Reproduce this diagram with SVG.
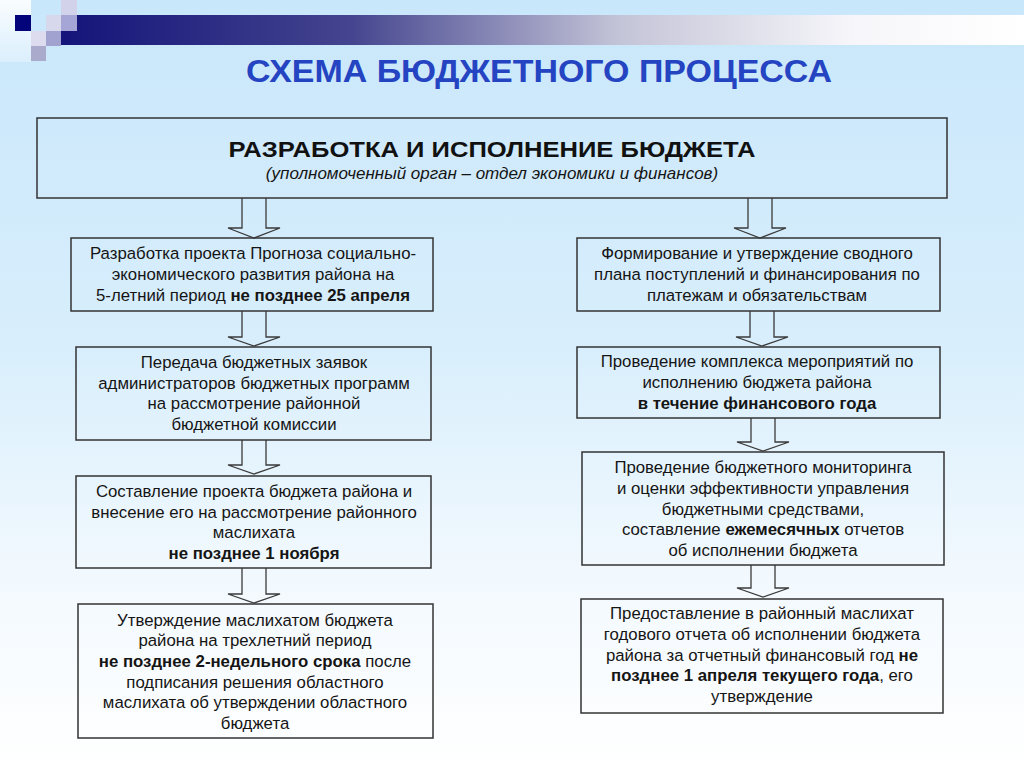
<svg xmlns="http://www.w3.org/2000/svg" width="1024" height="768" viewBox="0 0 1024 768">
<defs>
<linearGradient id="bg" x1="0" y1="0" x2="0" y2="1">
<stop offset="0" stop-color="#c9e7fb"/>
<stop offset="0.45" stop-color="#d8eefc"/>
<stop offset="0.75" stop-color="#f2f9fe"/>
<stop offset="1" stop-color="#ffffff"/>
</linearGradient>
<linearGradient id="bar" x1="0" y1="0" x2="1" y2="0">
<stop offset="0" stop-color="#14147a"/>
<stop offset="0.3" stop-color="#44448f"/>
<stop offset="0.58" stop-color="#c4c4d8"/>
<stop offset="0.82" stop-color="#f6f6fa"/>
<stop offset="1" stop-color="#ffffff"/>
</linearGradient>
<linearGradient id="strip" x1="0" y1="0" x2="0" y2="1">
<stop offset="0" stop-color="#ffffff" stop-opacity="0.9"/>
<stop offset="1" stop-color="#ffffff" stop-opacity="0.3"/>
</linearGradient>
<style>
.box{fill:none;stroke:#333333;stroke-width:1.5}
.arr{fill:none;stroke:#3a3a3a;stroke-width:1.3;stroke-linejoin:miter}
.t{font-family:"Liberation Sans",Arial,sans-serif;font-size:16.8px;fill:#151515;text-anchor:middle}
.b{font-weight:bold}
.h{font-family:"Liberation Sans",Arial,sans-serif;font-size:31px;font-weight:bold;fill:#2444c2;text-anchor:middle}
.mh{font-family:"Liberation Sans",Arial,sans-serif;font-size:22px;font-weight:bold;fill:#111111;text-anchor:middle}
.mi{font-family:"Liberation Sans",Arial,sans-serif;font-size:17px;font-style:italic;fill:#151515;text-anchor:middle}
</style>
</defs>
<rect x="0" y="0" width="1024" height="768" fill="url(#bg)"/>
<g id="decor">
<rect x="0" y="0" width="31" height="62" fill="url(#strip)"/>
<rect x="61" y="15" width="963" height="30" fill="url(#bar)"/>
<rect x="15" y="15" width="16" height="16" fill="#03037a"/>
<rect x="46" y="15" width="15" height="16" fill="#d8d8ec"/>
<rect x="61" y="15" width="16" height="16" fill="#a6a6d6"/>
<rect x="61" y="0" width="16" height="15" fill="#d2d2ea"/>
<rect x="31" y="31" width="15" height="15" fill="#dcdcee"/>
<rect x="46" y="31" width="15" height="15" fill="#a2a2d0"/>
<rect x="31" y="46" width="15" height="15" fill="#aaaacc"/>
</g>
<text class="h" x="539" y="82" textLength="586" lengthAdjust="spacingAndGlyphs">СХЕМА БЮДЖЕТНОГО ПРОЦЕССА</text>
<g id="main">
<rect class="box" x="37" y="118" width="910" height="80"/>
<text class="mh" x="492" y="157" textLength="527" lengthAdjust="spacingAndGlyphs">РАЗРАБОТКА И ИСПОЛНЕНИЕ БЮДЖЕТА</text>
<text class="mi" x="492" y="179">(уполномоченный орган – отдел экономики и финансов)</text>
</g>
<g id="connectors">
<polyline class="arr" points="242,198 242,228 228,228 254,238 280,228 266,228 266,198"/>
<polyline class="arr" points="748,198 748,228 734,228 760,238 786,228 772,228 772,198"/>
<polyline class="arr" points="242,311 242,337 228,337 254,346 280,337 266,337 266,311"/>
<polyline class="arr" points="242,440 242,465 228,465 254,474 280,465 266,465 266,440"/>
<polyline class="arr" points="242,568 242,594 228,594 254,603 280,594 266,594 266,568"/>
<polyline class="arr" points="750,311 750,337 736,337 762,346 788,337 774,337 774,311"/>
<polyline class="arr" points="751,418 751,442 737,442 763,451 789,442 775,442 775,418"/>
<polyline class="arr" points="751,565 751,588 737,588 763,597 789,588 775,588 775,565"/>
</g>
<g id="L1">
<rect class="box" x="71" y="238" width="362" height="73"/>
<text class="t" x="253" y="259">Разработка проекта Прогноза социально-</text>
<text class="t" x="253" y="280">экономического развития района на</text>
<text class="t" x="253" y="301">5-летний период <tspan class="b">не позднее 25 апреля</tspan></text>
</g>
<g id="L2">
<rect class="box" x="76" y="347" width="355" height="93"/>
<text class="t" x="254" y="368">Передача бюджетных заявок</text>
<text class="t" x="254" y="389">администраторов бюджетных программ</text>
<text class="t" x="254" y="409">на рассмотрение районной</text>
<text class="t" x="254" y="430">бюджетной комиссии</text>
</g>
<g id="L3">
<rect class="box" x="76" y="476" width="355" height="92"/>
<text class="t" x="254" y="497">Составление проекта бюджета района и</text>
<text class="t" x="254" y="518">внесение его на рассмотрение районного</text>
<text class="t" x="254" y="538">маслихата</text>
<text class="t b" x="254" y="559">не позднее 1 ноября</text>
</g>
<g id="L4">
<rect class="box" x="78" y="604" width="355" height="134"/>
<text class="t" x="255" y="626">Утверждение маслихатом бюджета</text>
<text class="t" x="255" y="646">района на трехлетний период</text>
<text class="t" x="255" y="667"><tspan class="b">не позднее 2-недельного срока</tspan> после</text>
<text class="t" x="255" y="688">подписания решения областного</text>
<text class="t" x="255" y="708">маслихата об утверждении областного</text>
<text class="t" x="255" y="729">бюджета</text>
</g>
<g id="R1">
<rect class="box" x="577" y="238" width="363" height="73"/>
<text class="t" x="757" y="259">Формирование и утверждение сводного</text>
<text class="t" x="757" y="280">плана поступлений и финансирования по</text>
<text class="t" x="757" y="301">платежам и обязательствам</text>
</g>
<g id="R2">
<rect class="box" x="577" y="347" width="363" height="71"/>
<text class="t" x="757" y="367">Проведение комплекса мероприятий по</text>
<text class="t" x="757" y="388">исполнению бюджета района</text>
<text class="t b" x="757" y="409">в течение финансового года</text>
</g>
<g id="R3">
<rect class="box" x="582" y="452" width="362" height="113"/>
<text class="t" x="763" y="473">Проведение бюджетного мониторинга</text>
<text class="t" x="763" y="494">и оценки эффективности управления</text>
<text class="t" x="763" y="515">бюджетными средствами,</text>
<text class="t" x="763" y="535">составление <tspan class="b">ежемесячных</tspan> отчетов</text>
<text class="t" x="763" y="556">об исполнении бюджета</text>
</g>
<g id="R4">
<rect class="box" x="581" y="599" width="362" height="114"/>
<text class="t" x="762" y="619">Предоставление в районный маслихат</text>
<text class="t" x="762" y="640">годового отчета об исполнении бюджета</text>
<text class="t" x="762" y="661">района за отчетный финансовый год <tspan class="b">не</tspan></text>
<text class="t" x="762" y="681"><tspan class="b">позднее 1 апреля текущего года</tspan>, его</text>
<text class="t" x="762" y="702">утверждение</text>
</g>
</svg>
